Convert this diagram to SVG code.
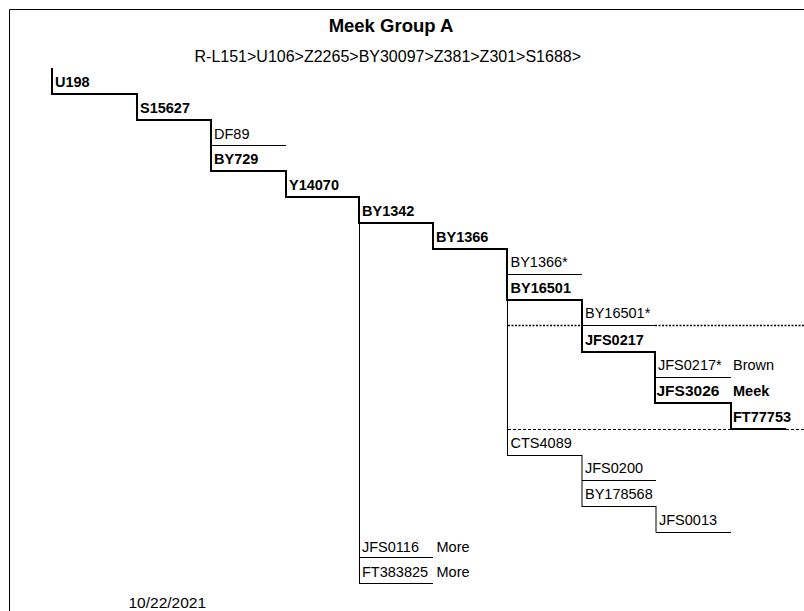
<svg xmlns="http://www.w3.org/2000/svg" width="804" height="611" viewBox="0 0 804 611">
<style>
text{font-family:"Liberation Sans",Arial,sans-serif;fill:#000}
.b{font-weight:bold;font-size:14.5px}
.n{font-size:14.5px}
.thick{fill:none;stroke:#000;stroke-width:2}
.thin{fill:none;stroke:#000;stroke-width:1}
.dot{fill:none;stroke:#000;stroke-width:1.5;stroke-dasharray:2 1.5}
.dash{fill:none;stroke:#000;stroke-width:1;stroke-dasharray:3 2}
</style>
<rect width="804" height="611" fill="#fff"/>
<path class="thin" d="M9.5,611 V9.5 H804"/>
<g id="header">
<text x="391" y="31.5" text-anchor="middle" style="font-weight:bold;font-size:18.5px">Meek Group A</text>
<text x="194.5" y="61.5" style="font-size:16px">R-L151&gt;U106&gt;Z2265&gt;BY30097&gt;Z381&gt;Z301&gt;S1688&gt;</text>
</g>
<g id="connectors">
<path class="thick" d="M52,68 V94 H137 V120 H211 V171 H286 V197 H359 V223 H433 V249 H507 V300 H582 V352 H655 V403 H731 V429 H786"/>
<path class="thin" d="M211,145.5 H286"/>
<path class="thin" d="M359.5,223 V583.5"/>
<path class="thin" d="M359,557.5 H433 M359,583.5 H433"/>
<path class="thin" d="M507,274.5 H582"/>
<path class="thin" d="M507.5,300 V455"/>
<path class="thin" d="M582,325.5 H655"/>
<path class="dot" d="M508,325.5 H582 M655,325.5 H804"/>
<path class="thin" d="M655,377.5 H731"/>
<path class="dash" d="M508,429.5 H731 M786,429.5 H804"/>
<path class="thin" d="M507,455.5 H582 M582,455 V507"/>
<path class="thin" d="M582,480.5 H656"/>
<path class="thin" d="M582,506.5 H656 M656,506 V532.5"/>
<path class="thin" d="M656,532.5 H731"/>
</g>
<g id="n-U198"><text class="b" x="55" y="87">U198</text></g>
<g id="n-S15627"><text class="b" x="140" y="113">S15627</text></g>
<g id="n-DF89"><text class="n" x="214" y="138.5">DF89</text></g>
<g id="n-BY729"><text class="b" x="214" y="164">BY729</text></g>
<g id="n-Y14070"><text class="b" x="289" y="190">Y14070</text></g>
<g id="n-BY1342"><text class="b" x="362" y="215.5">BY1342</text></g>
<g id="n-BY1366"><text class="b" x="436" y="241.5">BY1366</text></g>
<g id="n-BY1366s"><text class="n" x="510.5" y="267">BY1366*</text></g>
<g id="n-BY16501"><text class="b" x="510.5" y="292.5">BY16501</text></g>
<g id="n-BY16501s"><text class="n" x="585" y="318">BY16501*</text></g>
<g id="n-JFS0217"><text class="b" x="585" y="345">JFS0217</text></g>
<g id="n-JFS0217s"><text class="n" x="658" y="370">JFS0217*</text><text class="n" x="733" y="370">Brown</text></g>
<g id="n-JFS3026"><text x="656.5" y="396" style="font-weight:bold;font-size:15.5px">JFS3026</text><text class="b" x="733" y="396">Meek</text></g>
<g id="n-FT77753"><text class="b" x="733" y="422">FT77753</text></g>
<g id="n-CTS4089"><text class="n" x="510.5" y="448">CTS4089</text></g>
<g id="n-JFS0200"><text class="n" x="585" y="473">JFS0200</text></g>
<g id="n-BY178568"><text class="n" x="585" y="499">BY178568</text></g>
<g id="n-JFS0013"><text class="n" x="659" y="525">JFS0013</text></g>
<g id="n-JFS0116"><text class="n" x="362" y="551.5">JFS0116</text><text class="n" x="436.5" y="551.5">More</text></g>
<g id="n-FT383825"><text class="n" x="362" y="576.5">FT383825</text><text class="n" x="436.5" y="576.5">More</text></g>
<g id="footer"><text x="128.5" y="608" style="font-size:15.5px">10/22/2021</text></g>
</svg>
